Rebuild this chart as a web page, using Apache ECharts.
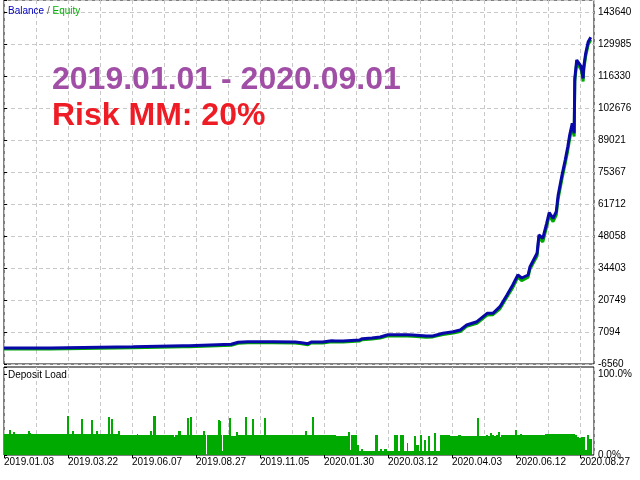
<!DOCTYPE html>
<html>
<head>
<meta charset="utf-8">
<script src="https://cdn.jsdelivr.net/npm/echarts@6/dist/echarts.min.js"></script>
<style>html,body{margin:0;padding:0;background:#fff}#c{width:640px;height:480px}</style>
</head>
<body>
<div id="c"></div>
<script>
// ---- data (x = deal index along the tester timeline) ----
const dateLabels = ['2019.01.03','2019.03.22','2019.06.07','2019.08.27','2019.11.05','2020.01.30','2020.03.12','2020.04.03','2020.06.12','2020.08.27'];
const yTickLabels = ['-6560','7094','20749','34403','48058','61712','75367','89021','102676','116330','129985','143640'];
const loadTickLabels = ['0.0%','100.0%'];

const dealIdx = [0,72,72,202,202,280,281,283,289,289,355,355,366,381,396,397,399,420,455,465,475,478,480,498,500,512,518,530,532,556,560,575,588,600,619,630,639,660,670,686,702,713,723,739,755,764,775,786,795,803,809,819,822,833,836,842,848,852,858,863,866,872,877,881,884,888,889,891,892,895,898,902,905,906,909,913,917];
const balance = [270,270,820,820,1250,1250,1700,1250,1250,1850,1850,2270,2700,2950,2950,3550,2950,2950,2830,2500,2100,2100,2800,2830,3250,3400,3250,3250,3680,3700,4240,4500,4960,5940,5940,5900,5810,5390,5390,6540,7220,7950,10080,11490,15070,15070,17890,22880,27150,31420,30140,31420,34960,40680,48480,47080,53480,58000,55610,58430,65550,74090,80490,86160,91150,96150,94700,91880,115350,123160,123880,120300,115350,120300,126020,130970,132840];
const equity = [-130,-130,420,420,850,850,850,850,850,1450,1450,1870,2300,2550,2500,2600,2550,2550,2400,2100,1700,1800,2400,2400,2800,2900,2850,2850,3250,3250,3800,4100,4500,5500,5400,5400,5300,4900,5000,6000,6700,7300,9500,10800,14300,14500,17000,22000,26000,30500,29000,30500,34000,39500,47500,45500,52000,56800,54200,57000,64000,72500,79000,84500,89500,95000,93500,90500,114000,122000,122500,119000,114000,119000,124800,129800,131800];

const loadIdx = [0,3,8,11,14,17,38,41,42,67,70,98,102,106,109,120,123,136,139,144,147,163,166,167,170,178,181,208,209,228,231,233,238,266,267,272,277,286,289,291,294,311,314,316,317,334,338,339,341,342,352,355,363,366,377,380,388,391,406,409,470,473,481,484,519,538,541,542,552,555,558,561,580,584,588,591,594,598,609,616,619,625,630,631,641,644,648,650,653,656,659,663,666,672,675,681,697,709,714,739,742,753,756,759,763,766,769,772,775,777,798,802,806,809,845,892,895,898,902,908,911,914,919];
const loadPct = [25.5,26,31,25.5,28,25.5,30,27,25.5,26,25.5,48,25.5,30,25.5,44,25.5,43,25.5,30,25.5,47,25.5,44,25.5,30,25,26,25,30,25,48,25,22,25,30,25,46,25,47,25,30,25,0,25,43,42,25,5,25,46,24,28,24.5,47,24.7,44,24.7,46,24.7,30,24.7,47,24.7,23,28,6,24.7,12,5,7,5,25,5,7,5,7,5,25,5,25,5,15,5,23,12,5,25,5,18,5,23,5,27,5,24.7,23.5,25,23.5,46,23.5,25,23.5,27,25,23.5,25,28,22,25,31,25,26,25,26,25,22,21,22,6,25,20,20];

const Y_MIN = -6560, Y_STEP = 13654.5, Y_MAX = 148760;
const X_MAX = 922;

const balData = dealIdx.map((x, i) => [x, balance[i]]);
const eqData = dealIdx.map((x, i) => [x, equity[i]]);
// each load value holds from its deal until the next one
const loadData = [];
for (let i = 0; i < loadIdx.length - 1; i++) loadData.push([loadIdx[i], loadIdx[i + 1], loadPct[i]]);

const FONT = "'Liberation Sans',Arial,sans-serif";
const FS = 10;
const gridLine = {show: true, lineStyle: {color: '#c8c8c8', type: [4, 3], width: 1}};

const chart = echarts.init(document.getElementById('c'), null, {renderer: 'canvas'});
chart.setOption({
  animation: false,
  backgroundColor: '#ffffff',
  grid: [
    {left: 4, top: 0, width: 590, height: 364, show: true, borderColor: '#000', borderWidth: 1},
    {left: 4, top: 367, width: 590, height: 88, show: true, borderColor: '#000', borderWidth: 1}
  ],
  xAxis: [
    {type: 'value', gridIndex: 0, min: 0, max: X_MAX, interval: 50,
     axisLine: {show: false}, axisTick: {show: false}, axisLabel: {show: false}, splitLine: gridLine},
    {type: 'value', gridIndex: 1, min: 0, max: X_MAX, interval: 50,
     axisLine: {show: false}, axisTick: {show: false}, axisLabel: {show: false}, splitLine: gridLine},
    {type: 'value', gridIndex: 1, min: 0, max: X_MAX, interval: 100, position: 'bottom',
     axisLine: {show: false},
     axisTick: {show: true, length: 3, lineStyle: {color: '#000'}},
     splitLine: {show: false},
     axisLabel: {show: true, margin: 2, align: 'left', color: '#000', fontFamily: FONT, fontSize: FS,
       showMaxLabel: false,
       formatter: v => (v % 100 === 0 && dateLabels[v / 100]) ? dateLabels[v / 100] : ''}}
  ],
  yAxis: [
    {type: 'value', gridIndex: 0, position: 'right', min: Y_MIN, max: Y_MAX, interval: Y_STEP,
     axisLine: {show: false},
     axisTick: {show: true, length: 3, lineStyle: {color: '#000'}},
     splitLine: gridLine,
     axisLabel: {show: true, margin: 4, color: '#000', fontFamily: FONT, fontSize: FS,
       formatter: v => {
         const i = Math.round((v - Y_MIN) / Y_STEP);
         return (Math.abs(v - (Y_MIN + i * Y_STEP)) < 1 && yTickLabels[i]) ? yTickLabels[i] : '';
       }}},
    {type: 'value', gridIndex: 1, position: 'right', min: 0, max: 108.6, interval: 100,
     axisLine: {show: false},
     axisTick: {show: true, length: 3, lineStyle: {color: '#000'}},
     splitLine: {show: false},
     axisLabel: {show: true, margin: 4, color: '#000', fontFamily: FONT, fontSize: FS,
       formatter: v => (v === 0 ? loadTickLabels[0] : (v === 100 ? loadTickLabels[1] : ''))}}
  ],
  graphic: [
    {type: 'text', x: 8, y: 11, z: 100, style: {
      text: '{b|Balance}{s| / }{e|Equity}', verticalAlign: 'middle',
      rich: {
        b: {fill: '#0000c0', color: '#0000c0', fontFamily: FONT, fontSize: FS},
        s: {fill: '#606060', color: '#606060', fontFamily: FONT, fontSize: FS},
        e: {fill: '#00b000', color: '#00b000', fontFamily: FONT, fontSize: FS}
      }}},
    {type: 'text', x: 8, y: 375, z: 100, style: {
      text: 'Deposit Load', fill: '#000', verticalAlign: 'middle',
      font: FS + "px 'Liberation Sans',Arial,sans-serif"}},
    {type: 'text', x: 52, y: 80, z: 100, style: {
      text: '2019.01.01 - 2020.09.01', fill: '#a14fa6', verticalAlign: 'middle',
      font: "bold 32px 'Liberation Sans',Arial,sans-serif"}},
    {type: 'text', x: 52, y: 116, z: 100, style: {
      text: 'Risk MM: 20%', fill: '#ee1c25', verticalAlign: 'middle',
      font: "bold 32px 'Liberation Sans',Arial,sans-serif"}}
  ],
  series: [
    {name: 'Equity', type: 'line', xAxisIndex: 0, yAxisIndex: 0, data: eqData,
     showSymbol: false, symbol: 'none', lineStyle: {color: '#00a800', width: 3}, z: 2},
    {name: 'Balance', type: 'line', xAxisIndex: 0, yAxisIndex: 0, data: balData,
     showSymbol: false, symbol: 'none', lineStyle: {color: '#0808a8', width: 3}, z: 3},
    {name: 'Deposit Load', type: 'custom', xAxisIndex: 1, yAxisIndex: 1, data: loadData, z: 2,
     encode: {x: [0, 1], y: 2},
     renderItem: (params, api) => {
       const p0 = api.coord([api.value(0), 0]);
       const p1 = api.coord([api.value(1), api.value(2)]);
       const x0 = Math.round(p0[0]), x1 = Math.round(p1[0]);
       const yTop = Math.round(p1[1]), yBot = Math.round(p0[1]);
       if (x1 <= x0 || yBot <= yTop) return null;
       return {type: 'rect', shape: {x: x0, y: yTop, width: x1 - x0, height: yBot - yTop},
               style: {fill: '#00aa00'}};
     }}
  ]
});
</script>
</body>
</html>
